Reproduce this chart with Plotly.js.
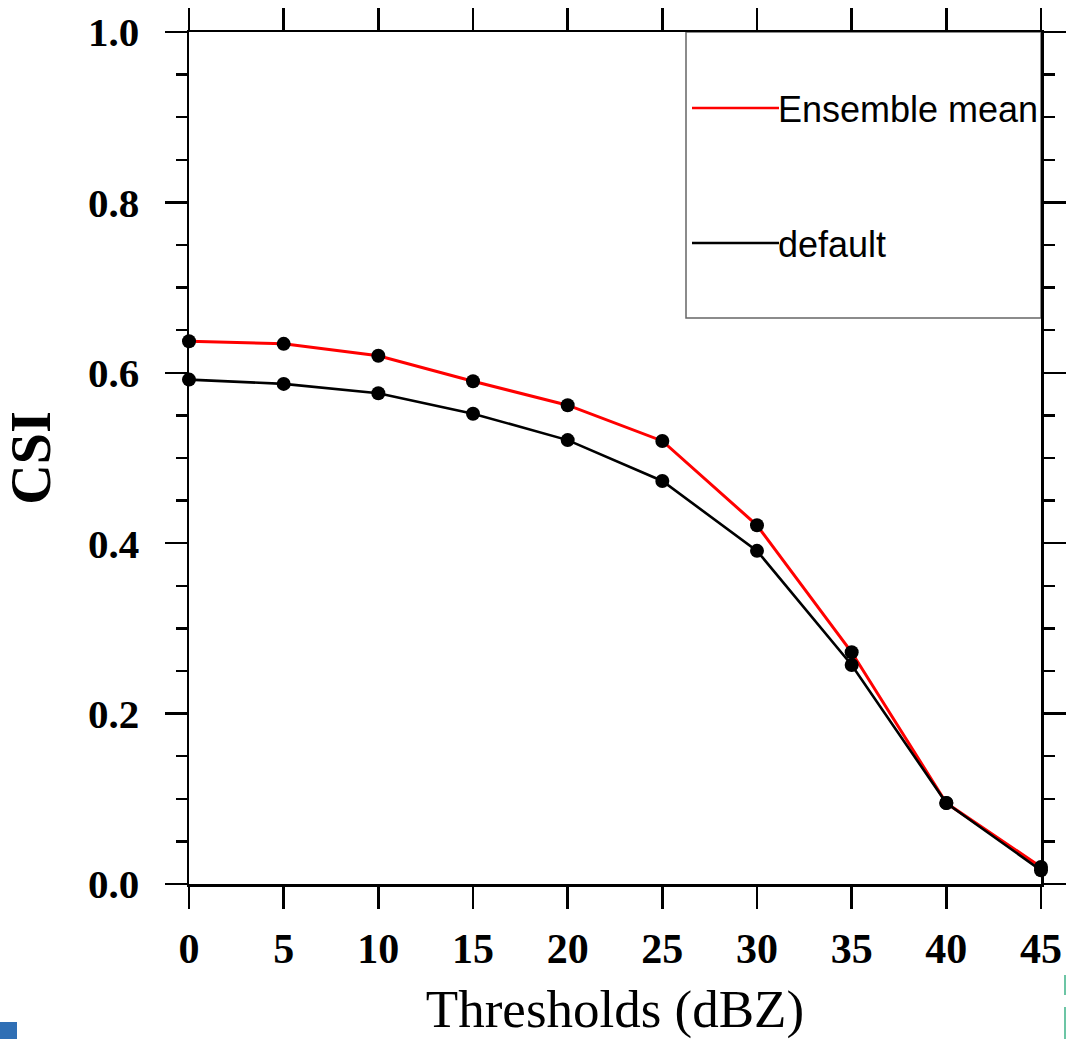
<!DOCTYPE html>
<html>
<head>
<meta charset="utf-8">
<script src="https://cdn.plot.ly/plotly-3.0.1.min.js"></script>
<style>html,body{margin:0;padding:0;background:#fff;}</style>
</head>
<body>
<div id="chart" style="width:1066px;height:1039px;"></div>
<script>
const thresholds = [0, 5, 10, 15, 20, 25, 30, 35, 40, 45];
const ensembleMean = [0.637, 0.634, 0.620, 0.590, 0.562, 0.520, 0.421, 0.272, 0.095, 0.020];
const defaultRun = [0.592, 0.587, 0.576, 0.552, 0.521, 0.473, 0.391, 0.257, 0.095, 0.016];
const seriesNames = ["Ensemble mean", "default"];
const xTicks = [0, 5, 10, 15, 20, 25, 30, 35, 40, 45];
const yTicks = [0.0, 0.2, 0.4, 0.6, 0.8, 1.0];

const serif = "Liberation Serif, Times New Roman, serif";
const sans = "Liberation Sans, Arial, sans-serif";

const traces = [
  {
    x: thresholds, y: ensembleMean, name: seriesNames[0], type: "scatter", mode: "lines+markers",
    line: {color: "#ff0000", width: 3},
    marker: {color: "#000000", size: 14},
    cliponaxis: false, showlegend: false
  },
  {
    x: thresholds, y: defaultRun, name: seriesNames[1], type: "scatter", mode: "lines+markers",
    line: {color: "#000000", width: 2.6},
    marker: {color: "#000000", size: 14},
    cliponaxis: false, showlegend: false
  }
];

const lx0 = (692 - 189) / 852, lx1 = (779 - 189) / 852;
const yRed = (884 - 108) / 852, yBlk = (884 - 243) / 852;

const layout = {
  width: 1066, height: 1039,
  margin: {l: 189, r: 25, t: 32, b: 155, pad: 0},
  paper_bgcolor: "#ffffff", plot_bgcolor: "#ffffff",
  showlegend: false,
  xaxis: {
    range: [0, 45], tickvals: xTicks, ticktext: xTicks.map(String),
    showline: true, linecolor: "#000", linewidth: 2.5, mirror: "ticks",
    ticks: "outside", ticklen: 22, tickwidth: 2.5, tickcolor: "#000",
    showgrid: false, zeroline: false,
    ticklabelstandoff: 4,
    tickfont: {family: serif, size: 42, color: "#000", weight: "bold"},
    title: {text: "Thresholds (dBZ)", font: {family: serif, size: 53, color: "#000"}, standoff: 40}
  },
  yaxis: {
    range: [0, 1], tickvals: yTicks, tickformat: ".1f",
    showline: true, linecolor: "#000", linewidth: 2.5, mirror: "ticks",
    ticks: "outside", ticklen: 22, tickwidth: 2.5, tickcolor: "#000",
    minor: {dtick: 0.05, ticks: "outside", ticklen: 11, tickwidth: 2.5, tickcolor: "#000", showgrid: false},
    showgrid: false, zeroline: false,
    ticklabelstandoff: 17,
    tickfont: {family: serif, size: 41, color: "#000", weight: "bold"},
    title: {text: "CSI", font: {family: serif, size: 56, color: "#000", weight: "bold"}, standoff: 23}
  },
  shapes: [
    {type: "rect", xref: "paper", yref: "paper", x0: (686 - 189) / 852, x1: 1, y0: (884 - 318) / 852, y1: 1,
     line: {color: "#666666", width: 1.5}, fillcolor: "rgba(255,255,255,1)", layer: "below"},
    {type: "line", xref: "paper", yref: "paper", x0: lx0, x1: lx1, y0: yRed, y1: yRed, line: {color: "#ff0000", width: 2.5}},
    {type: "line", xref: "paper", yref: "paper", x0: lx0, x1: lx1, y0: yBlk, y1: yBlk, line: {color: "#000000", width: 2.5}},
    {type: "rect", xref: "paper", yref: "paper", x0: -189 / 852, x1: (17 - 189) / 852, y0: (884 - 1039) / 852, y1: (884 - 1022) / 852,
     line: {width: 0}, fillcolor: "#2f6fb5"},
    {type: "rect", xref: "paper", yref: "paper", x0: (1064 - 189) / 852, x1: (1066 - 189) / 852, y0: (884 - 995) / 852, y1: (884 - 975) / 852,
     line: {width: 0}, fillcolor: "#6cc5a5"},
    {type: "rect", xref: "paper", yref: "paper", x0: (1064 - 189) / 852, x1: (1066 - 189) / 852, y0: (884 - 1039) / 852, y1: (884 - 1007) / 852,
     line: {width: 0}, fillcolor: "#6cc5a5"}
  ],
  annotations: [
    {xref: "paper", yref: "paper", x: lx1, y: yRed, xanchor: "left", yanchor: "middle", showarrow: false,
     text: seriesNames[0], font: {family: sans, size: 36, color: "#000"}, xshift: -3, yshift: -2},
    {xref: "paper", yref: "paper", x: lx1, y: yBlk, xanchor: "left", yanchor: "middle", showarrow: false,
     text: seriesNames[1], font: {family: sans, size: 36, color: "#000"}, xshift: -3, yshift: -2}
  ]
};

Plotly.newPlot("chart", traces, layout, {displayModeBar: false, staticPlot: true});
</script>
</body>
</html>
